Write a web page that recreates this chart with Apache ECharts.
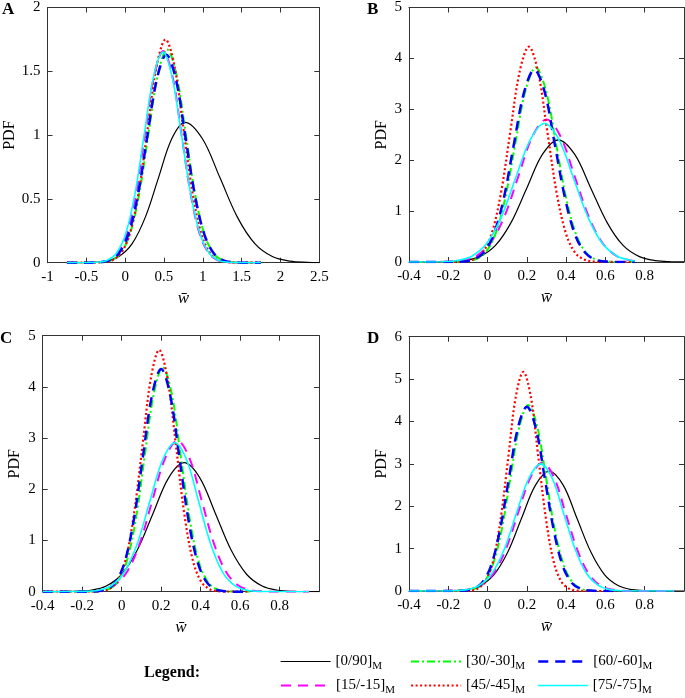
<!DOCTYPE html>
<html><head><meta charset="utf-8">
<script src="https://cdn.jsdelivr.net/npm/echarts@6/dist/echarts.min.js"></script>
<style>html,body{margin:0;padding:0;background:#fff}#c{width:685px;height:698px}</style>
</head><body><div id="c"></div><script>
// ---------- data (x, PDF) ----------
const seriesNames = ['[0/90]','[15/-15]','[30/-30]','[45/-45]','[60/-60]','[75/-75]'];

// Panel A
const A_0_90 = [[-0.75,0],[-0.59,0.0003],[-0.42,0.0024],[-0.25,0.012],[-0.08,0.048],[0.09,0.149],[0.26,0.357],[0.43,0.667],[0.6,0.971],[0.77,1.1],[0.995,0.971],[1.22,0.667],[1.445,0.357],[1.67,0.149],[1.895,0.048],[2.12,0.012],[2.345,0.0024],[2.5,0.0004]];
const A_15 = [[-0.75,0],[-0.45,0.0005],[-0.333,0.004],[-0.215,0.018],[-0.098,0.073],[0.02,0.225],[0.138,0.539],[0.255,1.007],[0.373,1.465],[0.49,1.66],[0.608,1.465],[0.725,1.007],[0.843,0.539],[0.96,0.225],[1.078,0.073],[1.195,0.018],[1.313,0.004],[1.43,0.0005],[1.75,0]];
const A_30 = [[-0.75,0],[-0.416,0.0005],[-0.297,0.004],[-0.177,0.019],[-0.058,0.073],[0.062,0.226],[0.182,0.542],[0.301,1.013],[0.421,1.474],[0.54,1.67],[0.66,1.474],[0.779,1.013],[0.899,0.542],[1.018,0.226],[1.138,0.073],[1.257,0.019],[1.377,0.004],[1.496,0.0005],[1.75,0]];
const A_45 = [[-0.75,0],[-0.392,0.0005],[-0.278,0.004],[-0.164,0.019],[-0.05,0.077],[0.064,0.237],[0.178,0.568],[0.292,1.061],[0.406,1.544],[0.52,1.75],[0.634,1.544],[0.748,1.061],[0.862,0.568],[0.976,0.237],[1.09,0.077],[1.204,0.019],[1.318,0.004],[1.432,0.0005],[1.75,0]];
const A_60 = [[-0.75,0],[-0.45,0.0005],[-0.328,0.0036],[-0.205,0.018],[-0.083,0.072],[0.04,0.221],[0.163,0.529],[0.285,0.989],[0.408,1.438],[0.53,1.63],[0.653,1.438],[0.775,0.989],[0.898,0.529],[1.02,0.221],[1.143,0.072],[1.265,0.018],[1.388,0.0036],[1.51,0.0005],[1.75,0]];
const A_75 = [[-0.75,0],[-0.475,0.0005],[-0.355,0.0036],[-0.235,0.018],[-0.115,0.072],[0.005,0.223],[0.125,0.536],[0.245,1.001],[0.365,1.456],[0.485,1.65],[0.605,1.456],[0.725,1.001],[0.845,0.536],[0.965,0.223],[1.085,0.072],[1.205,0.018],[1.325,0.0036],[1.445,0.0005],[1.75,0]];

// Panel B
const B_0_90 = [[-0.4,0],[-0.28,0.0007],[-0.2,0.005],[-0.12,0.027],[-0.04,0.105],[0.04,0.325],[0.12,0.779],[0.2,1.456],[0.28,2.118],[0.36,2.4],[0.443,2.118],[0.525,1.456],[0.608,0.779],[0.69,0.325],[0.773,0.105],[0.855,0.027],[0.938,0.005],[1.0,0.0007]];
const B_15 = [[-0.4,0],[-0.268,0.0008],[-0.197,0.006],[-0.126,0.031],[-0.055,0.123],[0.016,0.379],[0.087,0.909],[0.158,1.698],[0.229,2.471],[0.3,2.8],[0.371,2.471],[0.442,1.698],[0.513,0.909],[0.584,0.379],[0.655,0.123],[0.726,0.031],[0.75,0.018]];
const B_30 = [[-0.4,0],[-0.171,0.001],[-0.119,0.008],[-0.067,0.042],[-0.015,0.168],[0.037,0.517],[0.089,1.24],[0.141,2.317],[0.193,3.371],[0.245,3.82],[0.297,3.371],[0.349,2.317],[0.401,1.24],[0.453,0.517],[0.505,0.168],[0.557,0.042],[0.609,0.008],[0.661,0.001],[0.75,0]];
const B_45 = [[-0.4,0],[-0.166,0.0013],[-0.119,0.009],[-0.072,0.047],[-0.025,0.186],[0.022,0.572],[0.069,1.373],[0.116,2.566],[0.163,3.733],[0.21,4.23],[0.257,3.733],[0.304,2.566],[0.351,1.373],[0.398,0.572],[0.445,0.186],[0.492,0.047],[0.539,0.009],[0.586,0.0013],[0.75,0]];
const B_60 = [[-0.4,0],[-0.182,0.001],[-0.13,0.008],[-0.077,0.042],[-0.025,0.166],[0.028,0.511],[0.081,1.227],[0.133,2.293],[0.186,3.336],[0.238,3.78],[0.291,3.336],[0.343,2.293],[0.396,1.227],[0.448,0.511],[0.501,0.166],[0.553,0.042],[0.606,0.008],[0.658,0.001],[0.75,0]];
const B_75 = [[-0.4,0],[-0.298,0.0008],[-0.225,0.006],[-0.151,0.03],[-0.078,0.119],[-0.004,0.368],[0.07,0.883],[0.143,1.65],[0.217,2.4],[0.29,2.72],[0.364,2.4],[0.437,1.65],[0.511,0.883],[0.584,0.368],[0.658,0.119],[0.731,0.03],[0.75,0.02]];

// Panel C
const C_0_90 = [[-0.4,0],[-0.315,0.0008],[-0.236,0.0055],[-0.157,0.028],[-0.078,0.111],[0.001,0.341],[0.08,0.818],[0.159,1.528],[0.238,2.224],[0.317,2.52],[0.396,2.224],[0.475,1.528],[0.554,0.818],[0.633,0.341],[0.712,0.111],[0.791,0.028],[0.87,0.0055],[0.949,0.0008],[1.0,0.0002]];
const C_15 = [[-0.4,0],[-0.225,0.0009],[-0.162,0.0065],[-0.098,0.033],[-0.035,0.13],[0.029,0.399],[0.093,0.958],[0.156,1.789],[0.22,2.603],[0.283,2.95],[0.344,2.603],[0.405,1.789],[0.466,0.958],[0.527,0.399],[0.588,0.13],[0.649,0.033],[0.71,0.0065],[0.771,0.0009],[0.95,0]];
const C_30 = [[-0.4,0],[-0.156,0.0013],[-0.111,0.0096],[-0.065,0.049],[-0.02,0.192],[0.026,0.593],[0.072,1.422],[0.117,2.656],[0.163,3.865],[0.208,4.38],[0.254,3.865],[0.299,2.656],[0.345,1.422],[0.39,0.593],[0.436,0.192],[0.481,0.049],[0.527,0.0096],[0.572,0.0013],[0.65,0]];
const C_45 = [[-0.4,0],[-0.148,0.0014],[-0.106,0.01],[-0.064,0.052],[-0.021,0.207],[0.021,0.639],[0.063,1.533],[0.106,2.863],[0.148,4.165],[0.19,4.72],[0.232,4.165],[0.275,2.863],[0.317,1.533],[0.359,0.639],[0.401,0.207],[0.444,0.052],[0.486,0.01],[0.528,0.0014],[0.65,0]];
const C_60 = [[-0.4,0],[-0.168,0.0013],[-0.122,0.0096],[-0.076,0.048],[-0.03,0.191],[0.016,0.589],[0.062,1.412],[0.108,2.638],[0.154,3.839],[0.2,4.35],[0.246,3.839],[0.292,2.638],[0.338,1.412],[0.384,0.589],[0.43,0.191],[0.476,0.048],[0.522,0.0096],[0.568,0.0013],[0.65,0]];
const C_75 = [[-0.4,0],[-0.238,0.0009],[-0.175,0.0064],[-0.111,0.032],[-0.048,0.128],[0.016,0.394],[0.08,0.945],[0.143,1.765],[0.207,2.568],[0.27,2.91],[0.33,2.568],[0.39,1.765],[0.45,0.945],[0.51,0.394],[0.57,0.128],[0.63,0.032],[0.69,0.0064],[0.75,0.0009],[0.95,0]];

// Panel D
const D_0_90 = [[-0.4,0],[-0.25,0.0008],[-0.18,0.006],[-0.109,0.031],[-0.039,0.124],[0.032,0.383],[0.103,0.919],[0.173,1.716],[0.244,2.497],[0.314,2.83],[0.385,2.497],[0.455,1.716],[0.526,0.919],[0.596,0.383],[0.667,0.124],[0.737,0.031],[0.808,0.006],[0.878,0.0008],[1.0,0]];
const D_15 = [[-0.4,0],[-0.22,0.0009],[-0.158,0.0067],[-0.095,0.034],[-0.033,0.133],[0.03,0.41],[0.093,0.984],[0.155,1.838],[0.218,2.674],[0.28,3.03],[0.339,2.674],[0.397,1.838],[0.456,0.984],[0.514,0.41],[0.573,0.133],[0.631,0.034],[0.69,0.0067],[0.748,0.0009],[0.95,0]];
const D_30 = [[-0.4,0],[-0.157,0.0013],[-0.111,0.0097],[-0.066,0.049],[-0.02,0.193],[0.025,0.594],[0.071,1.425],[0.116,2.663],[0.162,3.874],[0.207,4.39],[0.253,3.874],[0.298,2.663],[0.343,1.425],[0.389,0.594],[0.434,0.193],[0.48,0.049],[0.525,0.0097],[0.571,0.0013],[0.65,0]];
const D_45 = [[-0.4,0],[-0.127,0.0016],[-0.088,0.011],[-0.05,0.057],[-0.011,0.227],[0.028,0.7],[0.066,1.679],[0.105,3.136],[0.143,4.563],[0.182,5.17],[0.221,4.563],[0.259,3.136],[0.298,1.679],[0.336,0.7],[0.375,0.227],[0.414,0.057],[0.452,0.011],[0.491,0.0016],[0.65,0]];
const D_60 = [[-0.4,0],[-0.167,0.0013],[-0.121,0.0096],[-0.075,0.048],[-0.029,0.191],[0.017,0.589],[0.062,1.412],[0.108,2.638],[0.154,3.839],[0.2,4.35],[0.246,3.839],[0.292,2.638],[0.338,1.412],[0.383,0.589],[0.429,0.191],[0.475,0.048],[0.521,0.0096],[0.567,0.0013],[0.65,0]];
const D_75 = [[-0.4,0],[-0.229,0.0009],[-0.167,0.0066],[-0.104,0.033],[-0.042,0.132],[0.021,0.406],[0.084,0.974],[0.146,1.82],[0.209,2.648],[0.271,3.0],[0.33,2.648],[0.388,1.82],[0.447,0.974],[0.505,0.406],[0.564,0.132],[0.622,0.033],[0.681,0.0066],[0.739,0.0009],[0.95,0]];

// axis ranges / ticks
const panelLetters = ['A','B','C','D'];
const xRanges = [[-1,2.5,0.5],[-0.4,1.0,0.2],[-0.4,1.0,0.2],[-0.4,1.0,0.2]];
const yRanges = [[0,2,0.5],[0,5,1],[0,5,1],[0,6,1]];
const curves = [
  [A_0_90,A_15,A_30,A_45,A_60,A_75],
  [B_0_90,B_15,B_30,B_45,B_60,B_75],
  [C_0_90,C_15,C_30,C_45,C_60,C_75],
  [D_0_90,D_15,D_30,D_45,D_60,D_75]
];

// ---------- layout & style ----------
const grids = [
  {left:47.5, top:6, width:271.8, height:256.7},
  {left:409, top:7, width:275, height:255},
  {left:42.7, top:335.7, width:276.3, height:256},
  {left:409, top:336.7, width:275, height:254.3}
];
const pdfGap = [30, 19, 20, 19];
const letterPos = [[2,1],[367,1],[0,330],[367,330]];
const lineStyles = [
  {color:'#000000', width:1.2, type:'solid'},
  {color:'#ff00ff', width:2, type:[10,7]},
  {color:'#00ff00', width:2, type:[8,3,2,3]},
  {color:'#ff0000', width:2.2, type:[2,2.5]},
  {color:'#0000ff', width:2.5, type:[10,7]},
  {color:'#00ffff', width:1.6, type:'solid'}
];
const FONT = '"Liberation Serif", "Times New Roman", serif';
const AX = '#333333';

const xAxis = [], yAxis = [], series = [], title = [];
grids.forEach((g, i) => {
  const [xmin,xmax,xint] = xRanges[i];
  const [ymin,ymax,yint] = yRanges[i];
  const common = {type:'value', gridIndex:i, splitLine:{show:false},
    axisLine:{show:true, onZero:false, lineStyle:{color:AX, width:1}},
    axisTick:{show:true, inside:true, length:5, lineStyle:{color:AX, width:1}}};
  xAxis.push(Object.assign({}, common, {min:xmin, max:xmax, interval:xint, position:'bottom',
    axisLabel:{color:'#000', fontFamily:FONT, fontSize:15, margin:7, showMaxLabel: i===0},
    name:'w\u0304', nameLocation:'middle', nameGap:27,
    nameTextStyle:{color:'#000', fontFamily:FONT, fontSize:17, fontStyle:'italic'}}));
  xAxis.push(Object.assign({}, common, {min:xmin, max:xmax, interval:xint, position:'top', axisLabel:{show:false}}));
  yAxis.push(Object.assign({}, common, {min:ymin, max:ymax, interval:yint, position:'left',
    axisLabel:{color:'#000', fontFamily:FONT, fontSize:15, margin:7},
    name:'PDF', nameLocation:'middle', nameGap:pdfGap[i],
    nameTextStyle:{color:'#000', fontFamily:FONT, fontSize:16}}));
  yAxis.push(Object.assign({}, common, {min:ymin, max:ymax, interval:yint, position:'right', axisLabel:{show:false}}));
  curves[i].forEach((d, k) => {
    series.push({type:'line', name:seriesNames[k], xAxisIndex:2*i, yAxisIndex:2*i, data:d,
      symbol:'none', showSymbol:false, smooth:0.35, animation:false,
      lineStyle:lineStyles[k], itemStyle:{color:lineStyles[k].color}, z:2+k});
  });
  title.push({text:panelLetters[i], left:letterPos[i][0], top:letterPos[i][1], padding:0,
    textStyle:{fontFamily:FONT, fontSize:17, fontWeight:'bold', color:'#000'}});
});
title.push({text:'Legend:', left:144, top:665, padding:0,
  textStyle:{fontFamily:FONT, fontSize:16, fontWeight:'bold', color:'#000'}});

// legend: 3 columns x 2 rows, one legend component per entry
const legendCols = [280, 410, 537];
const legendRows = [654, 678];
const legendOrder = [[0,0,0],[1,0,1],[2,1,0],[3,1,1],[4,2,0],[5,2,1]]; // [series, col, row]
const legend = legendOrder.map(([s, c, r]) => ({
  data:[seriesNames[s]], orient:'horizontal', left:legendCols[c], top:legendRows[r],
  itemWidth:50, itemHeight:14, selectedMode:false, padding:0,
  itemStyle:{opacity:0},
  lineStyle:{width:'inherit'},
  formatter: n => '{t|' + n + '}{s|M}',
  textStyle:{fontFamily:FONT, color:'#000', rich:{
    t:{fontFamily:FONT, fontSize:15, color:'#000'},
    s:{fontFamily:FONT, fontSize:11, color:'#000', padding:[9,0,0,0]}}}
}));

const chart = echarts.init(document.getElementById('c'), null, {renderer:'canvas'});
chart.setOption({animation:false, backgroundColor:'#fff', grid:grids, xAxis, yAxis, series, title, legend});
</script></body></html>
